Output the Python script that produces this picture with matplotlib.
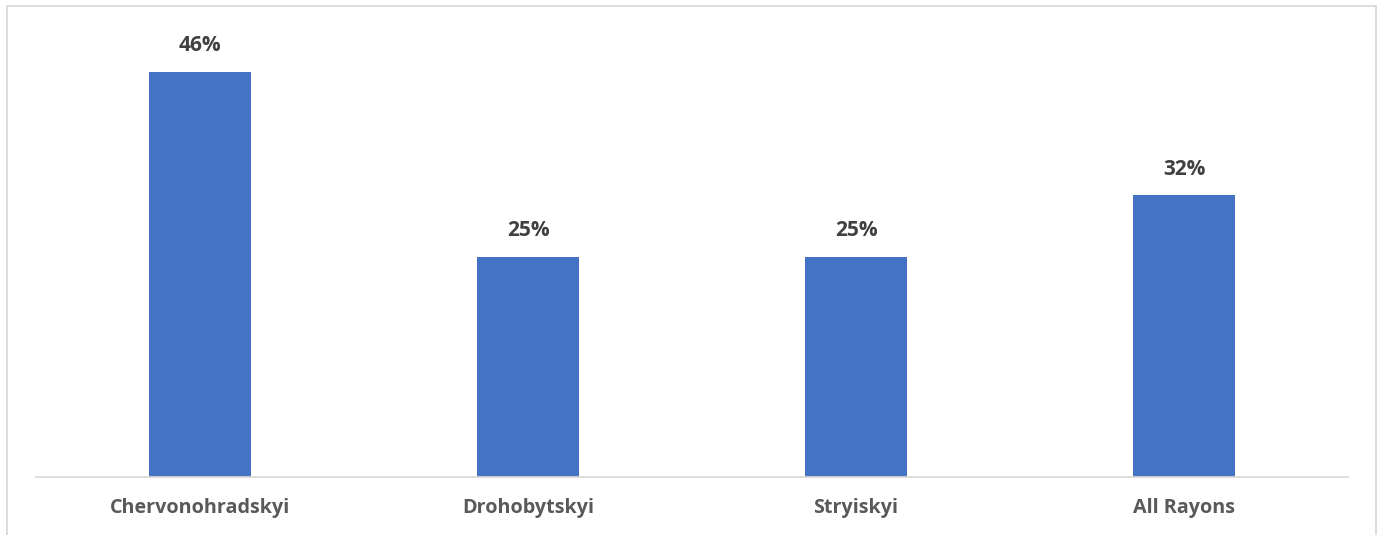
import matplotlib
matplotlib.use("Agg")
import matplotlib.pyplot as plt
from matplotlib.patches import Rectangle

categories = ["Chervonohradskyi", "Drohobytskyi", "Stryiskyi", "All Rayons"]
shares = [46, 25, 25, 32]

W, H, DPI = 1377, 535, 100
plt.rcParams["font.family"] = ["Open Sans", "DejaVu Sans"]

fig = plt.figure(figsize=(W / DPI, H / DPI), dpi=DPI)

# outer chart frame (bottom edge runs past the canvas)
fig.patches.append(Rectangle((7 / W, -0.05), (1376 - 7) / W, 1.05 - 6 / H,
                             transform=fig.transFigure, fill=False,
                             edgecolor="#d9d9d9", linewidth=1.3))

left, right = 36 / W, 1348 / W
bottom, top = 1 - 477 / H, 1 - 36 / H
ax = fig.add_axes([left, bottom, right - left, top - bottom])

x = range(len(categories))
ax.bar(x, shares, width=0.311, color="#4472c4", zorder=2)
ax.set_xlim(-0.5, len(categories) - 0.5)
ax.set_ylim(0, 441 / 8.8)

for xi, v in zip(x, shares):
    ax.annotate(f"{v}%", (xi, v), xytext=(0, 19), textcoords="offset points",
                ha="center", va="center", fontsize=15, fontweight="bold",
                color="#404040")

for s in ["top", "right", "left"]:
    ax.spines[s].set_visible(False)
ax.spines["bottom"].set_color("#d9d9d9")
ax.spines["bottom"].set_linewidth(1.3)
ax.set_yticks([])
ax.set_xticks(list(x))
ax.set_xticklabels(categories, fontsize=14.2, fontweight="bold", color="#595959")
ax.tick_params(axis="x", length=0, pad=15)

fig.savefig("out.png", dpi=DPI)
